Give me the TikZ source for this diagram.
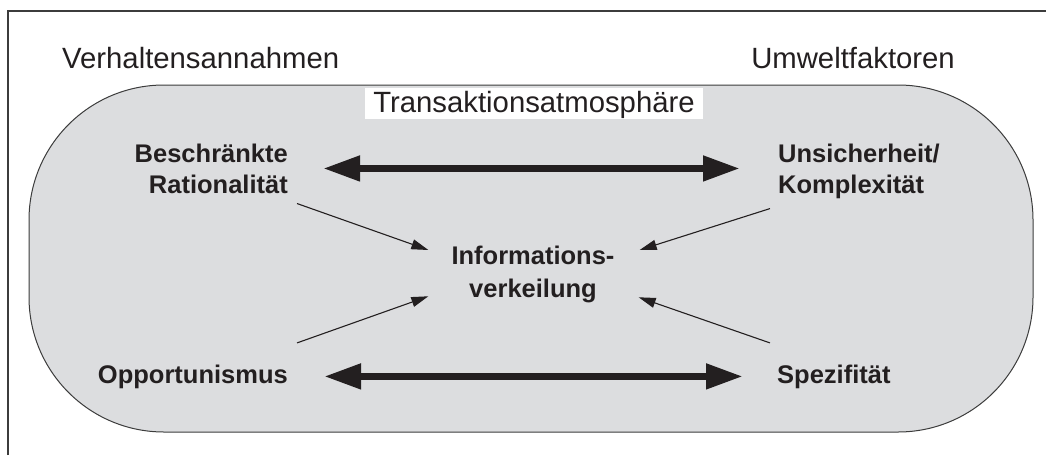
\documentclass[tikz,border=0pt]{standalone}
\usepackage{fontspec}
\setmainfont{Liberation Sans}
\usetikzlibrary{arrows.meta}
\definecolor{panel}{RGB}{220,221,223}
\definecolor{ink}{RGB}{35,31,32}
\definecolor{rule}{RGB}{60,60,60}
\begin{document}
\begin{tikzpicture}[x=1pt,y=-1pt,
  head/.style={font=\fontsize{29.3}{35}\selectfont, text=ink, inner sep=0pt},
  factor/.style={font=\bfseries\fontsize{25.5}{31}\selectfont, text=ink, inner sep=0pt},
  bigarrow/.style={ink, line width=7.5pt,
    {Triangle[length=37pt,width=24pt]}-{Triangle[length=37pt,width=24pt]}},
  smallarrow/.style={ink, line width=1.1pt, -{Triangle[length=17pt,width=10pt]}}]
\useasboundingbox (0,0) rectangle (1046,455);

% outer frame (top and left rules)
\draw[rule, line width=1.3pt] (8,455) -- (8,11) -- (1046,11);

% rounded panel
\draw[rule, line width=1pt, fill=panel, rounded corners=135pt] (29,85) rectangle (1033,432);

% headings
\node[head, anchor=base west] (verh) at (62,68) {Verhaltensannahmen};
\node[head, anchor=base east] (umw) at (955,68) {Umweltfaktoren};
\node[head, fill=white, inner xsep=8.5pt, inner ysep=0pt, text height=24pt, text depth=7pt,
      anchor=base] (atm) at (534,112) {Transaktionsatmosphäre};

% factors
\node[factor, align=right, anchor=north east] (rat) at (288,143.4) {Beschränkte\\Rationalität};
\node[factor, align=left, anchor=north west] (uns) at (778,143.4) {Unsicherheit/\\Komplexität};
\node[factor, align=center, anchor=north, inner xsep=23pt] (inf) at (533,245.4) {Informations-\\[2pt]verkeilung};
\node[factor, anchor=base east] (opp) at (288,383) {Opportunismus};
\node[factor, anchor=base west] (spz) at (777,383) {Spezifität};

% double arrows
\draw[bigarrow, shorten <=35pt, shorten >=38pt] (rat.east) -- (rat.east -| uns.west);
\draw[bigarrow, shorten <=36pt, shorten >=34pt] (opp.east) -- (opp.east -| spz.west);

% arrows into the centre
\draw[smallarrow] ([shift={(9,10)}]rat.south east) -- ([shift={(0,4.6)}]inf.north west);
\draw[smallarrow] ([shift={(-8,10)}]uns.south west) -- ([shift={(2,4.6)}]inf.north east);
\draw[smallarrow] ([shift={(9,-21.4)}]opp.north east) -- ([shift={(0,-6.4)}]inf.south west);
\draw[smallarrow] ([shift={(-7,-21.4)}]spz.north west) -- ([shift={(1,-5.4)}]inf.south east);
\end{tikzpicture}
\end{document}
